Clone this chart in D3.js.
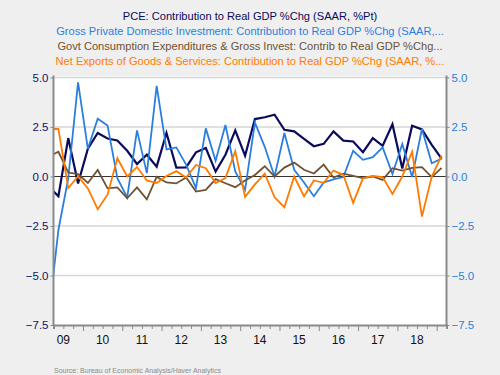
<!DOCTYPE html>
<html>
<head>
<meta charset="utf-8">
<style>
  body { margin: 0; background: #efefef; }
  text { font-family: "Liberation Sans", Arial, sans-serif; }
</style>
</head>
<body>
<script src="https://cdn.jsdelivr.net/npm/d3@7"></script>
<script>

  // quarterly, 2009Q1 .. 2019Q1
  var quarters = ["2009Q1","2009Q2","2009Q3","2009Q4","2010Q1","2010Q2","2010Q3","2010Q4",
    "2011Q1","2011Q2","2011Q3","2011Q4","2012Q1","2012Q2","2012Q3","2012Q4",
    "2013Q1","2013Q2","2013Q3","2013Q4","2014Q1","2014Q2","2014Q3","2014Q4",
    "2015Q1","2015Q2","2015Q3","2015Q4","2016Q1","2016Q2","2016Q3","2016Q4",
    "2017Q1","2017Q2","2017Q3","2017Q4","2018Q1","2018Q2","2018Q3","2018Q4","2019Q1"];

  var pce = [-0.5, -1.0, 1.94, -0.35, 1.4, 2.2, 1.92, 1.82, 1.3, 0.63, 1.1, 0.5, 2.2, 0.45, 0.46,
    1.22, 1.44, 0.25, 1.1, 2.33, 1.05, 2.9, 2.99, 3.12, 2.36, 2.28, 1.9, 1.53, 1.65, 2.28,
    1.81, 1.77, 1.23, 1.94, 1.55, 2.64, 0.4, 2.56, 2.38, 1.6, 0.9];

  var gpdi = [-7.1, -2.7, -0.1, 4.75, 1.4, 2.92, 2.58, -0.08, -1.05, 2.33, 0.17, 4.58, 1.37, 1.47, 0.6,
    -0.58, 2.43, 0.8, 2.6, 0.25, -0.67, 2.72, 1.5, 0.0, 2.2, 0.34, -0.3, -1.0, -0.3, -0.14,
    -0.03, 1.3, 0.84, 0.98, 1.47, 0.12, 1.64, -0.03, 2.4, 0.67, 0.9];

  var govt = [1.0, 1.25, 0.2, 0.12, -0.33, 0.33, -0.6, -0.55, -1.1, -0.55, -1.15, -0.02, -0.3, -0.35, -0.05,
    -0.76, -0.68, -0.13, -0.34, -0.54, -0.2, 0.08, 0.52, 0.0, 0.45, 0.7, 0.34, 0.15, 0.6, -0.05,
    0.14, 0.03, -0.08, 0.0, -0.17, 0.42, 0.3, 0.44, 0.47, -0.03, 0.44];

  var netExports = [2.4, 2.4, -0.58, 0.0, -0.6, -1.65, -0.92, 0.92, 0.0, 0.48, -0.2, -0.33, 0.03, 0.27, -0.05,
    0.58, 0.42, -0.33, -0.08, 1.28, -1.03, -0.4, 0.14, -1.05, -1.55, 0.0, -1.0, -0.2, -0.32, 0.3,
    0.08, -1.33, -0.08, 0.03, -0.03, -0.88, 0.0, 1.25, -2.02, 0.0, 1.05];

  var titles = [
    "PCE: Contribution to Real GDP %Chg (SAAR, %Pt)",
    "Gross Private Domestic Investment: Contribution to Real GDP %Chg (SAAR,...",
    "Govt Consumption Expenditures & Gross Invest: Contrib to Real GDP %Chg...",
    "Net Exports of Goods & Services: Contribution to Real GDP %Chg (SAAR, %..."
  ];
  var colors = ["#0b0b5c", "#2a7fde", "#6e5232", "#ff7a00"];
  var yTicks = [5.0, 2.5, 0.0, -2.5, -5.0, -7.5];
  var yearLabels = ["09","10","11","12","13","14","15","16","17","18"];

  var width = 500, height = 375;
  var mLeft = 53.5, mRight = 446.5, mTop = 77.5, mBottom = 325;

  var svg = d3.select("body").append("svg")
      .attr("width", width)
      .attr("height", height);

  svg.append("rect").attr("width", width).attr("height", height).attr("fill", "#efefef");

  // date as decimal year, point at middle of the quarter
  function qdate(q) {
    return +q.slice(0, 4) + (+q.slice(5) - 0.5) / 4;
  }

  var x = d3.scaleLinear().domain([2009.25, 2019.25]).range([mLeft, mRight]);
  var y = d3.scaleLinear().domain([-7.5, 5]).range([mBottom, mTop]);

  svg.append("rect")
      .attr("x", mLeft).attr("y", mTop - 1.5)
      .attr("width", mRight - mLeft).attr("height", mBottom - mTop + 1.5)
      .attr("fill", "#fff");

  // grid
  svg.selectAll(".grid")
      .data(yTicks.filter(function (d) { return d !== 0 && d !== -7.5; }))
      .enter().append("line")
      .attr("x1", mLeft).attr("x2", mRight)
      .attr("y1", function (d) { return y(d); })
      .attr("y2", function (d) { return y(d); })
      .attr("stroke", "#d6d6d6").attr("stroke-width", 1.5);

  svg.append("line")
      .attr("x1", mLeft).attr("x2", mRight)
      .attr("y1", y(0)).attr("y2", y(0))
      .attr("stroke", "#333").attr("stroke-width", 1.2);

  // lines
  var series = [pce, gpdi, govt, netExports];
  svg.append("clipPath").attr("id", "plot")
      .append("rect").attr("x", mLeft).attr("y", mTop - 2)
      .attr("width", mRight - mLeft).attr("height", mBottom - mTop + 2);

  var line = d3.line()
      .x(function (d, i) { return x(qdate(quarters[i])); })
      .y(function (d) { return y(d); });

  svg.append("g").attr("clip-path", "url(#plot)")
    .selectAll("path")
      .data(series)
      .enter().append("path")
      .attr("d", line)
      .attr("fill", "none")
      .attr("stroke", function (d, i) { return colors[i]; })
      .attr("stroke-width", function (d, i) { return i === 0 ? 2.2 : 1.8; })
      .attr("stroke-linejoin", "miter");

  // axes
  var leftAxis = d3.axisLeft(y).tickValues(yTicks).tickSize(3).tickFormat(d3.format(".1f"));
  var rightAxis = d3.axisRight(y).tickValues(yTicks).tickSize(3).tickFormat(d3.format(".1f"));

  var gl = svg.append("g").attr("transform", "translate(" + mLeft + ",0)").call(leftAxis);
  var gr = svg.append("g").attr("transform", "translate(" + mRight + ",0)").call(rightAxis);

  [gl, gr].forEach(function (g, k) {
    g.select(".domain").attr("stroke", "#8a8a8a").attr("stroke-width", 2)
        .attr("d", "M0," + (mTop - 2) + "V" + (mBottom + 1));
    g.selectAll(".tick line").attr("stroke", "#8a8a8a");
    g.selectAll(".tick text")
        .attr("fill", k === 0 ? "#12126a" : "#2a7fde")
        .style("font-family", "Liberation Sans, Arial, sans-serif")
        .style("font-size", "11.5px")
        .attr("dx", k === 0 ? "1px" : "-1px");
  });

  // bottom axis: quarterly ticks, years labelled mid-year
  var qTicks = d3.range(2009.25, 2019.26, 0.25);
  var xAxis = d3.axisBottom(x).tickValues(qTicks).tickSize(4).tickFormat("");
  var gx = svg.append("g").attr("transform", "translate(0," + mBottom + ")").call(xAxis);
  gx.select(".domain").attr("stroke", "#8a8a8a").attr("stroke-width", 2);
  gx.selectAll(".tick line")
      .attr("stroke", "#8a8a8a")
      .attr("y2", function (d) { return Math.abs(d - Math.round(d)) < 0.01 ? 6 : 4; });

  svg.selectAll(".year")
      .data(yearLabels)
      .enter().append("text")
      .attr("x", function (d) { return x(2000 + +d + 0.5); })
      .attr("y", 344)
      .attr("text-anchor", "middle")
      .style("font-size", "12px")
      .attr("fill", "#111")
      .text(function (d) { return d; });

  // titles
  svg.selectAll(".title")
      .data(titles)
      .enter().append("text")
      .attr("x", 250)
      .attr("y", function (d, i) { return 20 + i * 15; })
      .attr("text-anchor", "middle")
      .style("font-size", "11.1px")
      .attr("fill", function (d, i) { return colors[i]; })
      .text(function (d) { return d; });

  svg.append("text")
      .attr("x", 54).attr("y", 373)
      .style("font-size", "7px")
      .attr("fill", "#8a8a8a")
      .text("Source:  Bureau of Economic Analysis/Haver Analytics");

</script>
</body>
</html>
